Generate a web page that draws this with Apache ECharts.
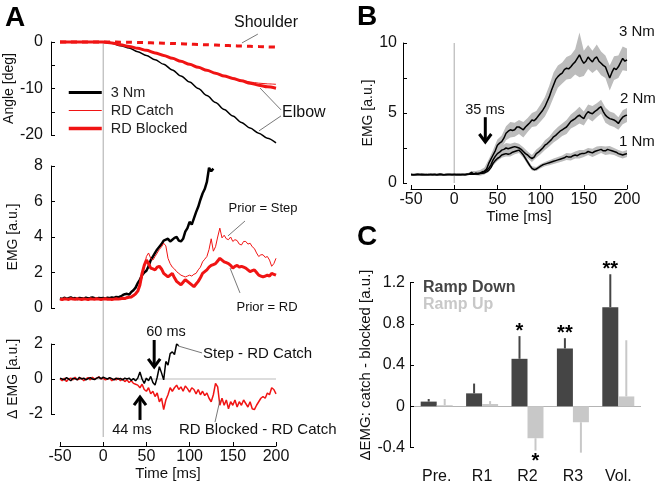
<!DOCTYPE html>
<html><head><meta charset="utf-8">
<script src="https://cdn.jsdelivr.net/npm/echarts@6/dist/echarts.min.js"></script>
<style>html,body{margin:0;padding:0;background:#fff}#c{width:658px;height:483px}</style>
</head><body><div id="c"></div>
<script>
// ---------------- DATA ----------------
const timeTicks = [-50, 0, 50, 100, 150, 200];
// Panel A, joint angles (10 ms samples)
const angleTime = [-50,-40,-30,-20,-10,0,10,20,30,40,50,60,70,80,90,100,110,120,130,140,150,160,170,180,190,200];
const angle3Nm    = [0,0,0,0,0,0,-0.25,-0.8,-1.3,-2.1,-2.9,-3.8,-4.8,-6.0,-7.3,-8.6,-10.0,-11.5,-13.0,-14.5,-15.9,-17.3,-18.5,-19.6,-20.7,-21.7];
const angleCatch  = [0,0,0,0,0,0,-0.2,-0.6,-0.95,-1.35,-1.8,-2.35,-2.9,-3.5,-4.15,-4.8,-5.45,-6.1,-6.7,-7.3,-7.85,-8.3,-8.6,-8.85,-9.0,-9.1];
const angleBlocked= [0,0,0,0,0,0,-0.2,-0.6,-0.95,-1.35,-1.8,-2.35,-2.9,-3.5,-4.15,-4.8,-5.45,-6.1,-6.7,-7.3,-7.85,-8.35,-8.85,-9.3,-9.65,-9.95];
const angleShoulder=[0,0,0,0,0,0,-0.01,-0.03,-0.06,-0.1,-0.15,-0.2,-0.26,-0.32,-0.39,-0.46,-0.53,-0.6,-0.67,-0.74,-0.81,-0.87,-0.93,-0.99,-1.05,-1.1];

// EMG traces sampled every 2.5 ms starting at -50 ms
const sampleStart = -50, sampleStep = 2.5, bandStep = 5;
const emg3Nm = [0.55,0.5,0.58,0.52,0.55,0.6,0.53,0.56,0.5,0.57,0.55,0.52,0.58,0.54,0.56,0.6,0.55,0.52,0.57,0.55,
  0.56,0.53,0.58,0.55,0.6,0.57,0.62,0.6,
  0.65,0.72,0.78,0.8,0.75,0.9,1.0,1.15,
  1.4,1.6,1.85,2.0,2.1,2.35,2.7,2.9,
  3.1,3.3,3.45,3.6,3.8,3.85,3.9,3.75,
  3.85,3.95,4.0,3.8,3.75,3.9,4.3,4.5,
  4.85,4.7,5.05,5.4,5.7,6.1,6.45,6.7,
  7.1,7.9,7.7,7.85];
const emgCatch = [0.5,0.55,0.48,0.52,0.5,0.56,0.5,0.47,0.53,0.5,0.55,0.5,0.48,0.54,0.5,0.52,0.49,0.55,0.5,0.52,
  0.5,0.48,0.53,0.5,0.52,0.5,0.55,0.52,
  0.55,0.6,0.58,0.62,0.6,0.65,0.7,0.8,
  1.0,1.3,1.7,2.3,2.9,3.1,2.8,2.7,
  2.9,3.1,3.3,3.45,3.65,3.5,2.8,2.5,
  2.3,2.2,2.05,1.95,1.85,1.8,1.75,1.8,
  1.85,1.8,1.9,1.95,2.15,2.3,2.6,2.75,
  2.9,3.3,3.9,3.2,3.45,4.0,4.5,3.95,
  4.1,3.9,3.85,4.0,3.75,3.85,3.8,3.6,
  3.55,3.75,3.75,3.6,3.65,3.45,3.35,3.1,
  2.9,3.0,3.0,2.85,2.9,2.7,2.35,2.5,
  2.8];
const emgBlocked = [0.5,0.47,0.52,0.5,0.48,0.53,0.5,0.49,0.52,0.5,0.48,0.51,0.5,0.47,0.52,0.5,0.49,0.52,0.5,0.48,
  0.5,0.52,0.49,0.5,0.48,0.5,0.52,0.5,
  0.52,0.55,0.53,0.58,0.6,0.62,0.7,0.8,
  0.95,1.3,1.95,2.4,2.7,2.5,2.25,2.2,
  2.15,2.3,2.35,2.2,1.95,1.85,1.75,1.85,
  1.95,1.7,1.5,1.4,1.3,1.45,1.6,1.5,
  1.4,1.3,1.2,1.35,1.5,1.7,1.95,2.05,
  2.15,2.3,2.4,2.45,2.5,2.65,2.8,2.7,
  2.6,2.55,2.5,2.4,2.25,2.35,2.4,2.3,
  2.35,2.3,2.25,2.15,2.05,2.1,2.15,2.0,
  1.85,1.8,1.75,1.8,1.85,1.8,1.95,1.9,
  1.85];
const diffStep = [0.05,0.0,-0.05,0.08,0.0,-0.1,0.05,0.02,-0.05,0.1,0.0,0.05,-0.05,0.02,0.08,0.0,-0.03,0.05,0.1,0.02,
  0.1,0.05,0.0,0.08,0.02,-0.05,0.05,0.0,
  0.03,-0.05,0.05,0.0,0.05,-0.08,0.02,-0.1,
  0.05,0.4,0.0,-0.25,0.05,-0.1,0.15,-0.2,
  -0.35,0.1,0.7,0.35,-0.05,1.0,0.8,1.45,
  1.55,1.4,2.0,1.9];
const diffBlocked = [0.0,-0.1,0.05,-0.15,0.0,0.05,-0.05,0.1,-0.05,0.0,0.05,-0.1,0.0,0.08,-0.05,0.1,0.0,0.05,0.12,0.0,
  0.05,-0.05,0.0,0.05,-0.1,0.0,-0.05,0.05,
  -0.1,0.0,-0.15,-0.05,-0.2,-0.1,-0.25,-0.3,
  -0.35,-0.5,-0.3,-0.6,-0.7,-0.5,-0.85,-0.7,
  -1.0,-0.8,-1.3,-1.1,-1.75,-1.2,-0.9,-0.5,
  -0.7,-0.5,-0.35,-0.6,-0.45,-0.7,-0.4,-0.55,
  -0.75,-0.5,-0.6,-0.85,-0.6,-0.9,-0.7,-0.95,
  -0.8,-1.1,-1.3,-0.9,-0.25,-0.45,-1.5,-1.1,
  -1.5,-1.2,-1.7,-1.3,-1.5,-1.2,-1.6,-1.3,
  -1.5,-1.2,-1.4,-1.6,-1.3,-1.7,-1.75,-1.5,
  -1.3,-1.1,-1.0,-1.1,-0.8,-0.9,-0.5,-0.6,
  -0.85];
// Panel B means (2.5 ms) and standard errors (5 ms)
const b3Nm = [0.6,0.58,0.6,0.62,0.6,0.59,0.61,0.6,0.58,0.6,0.61,0.6,0.59,0.6,0.62,0.6,0.59,0.6,0.61,0.6,
  0.6,0.59,0.61,0.6,0.6,0.58,0.62,0.65,
  0.75,0.65,0.7,0.68,0.72,0.8,0.85,1.0,
  1.4,1.7,2.0,2.3,2.7,2.85,2.95,3.2,
  3.55,3.7,3.8,3.75,3.8,4.0,4.0,3.9,
  3.8,4.0,4.15,4.3,4.5,4.45,4.6,4.8,
  5.0,5.2,5.45,5.8,6.15,6.6,7.0,7.4,
  7.6,7.75,7.85,8.1,8.2,8.15,8.3,8.5,
  8.65,8.9,9.15,8.8,8.55,8.7,9.0,8.8,
  8.65,8.9,9.0,8.7,8.55,8.4,8.3,7.9,
  7.5,7.9,8.2,8.1,8.3,8.6,8.9,8.7,
  8.8];
const b2Nm = [0.6,0.61,0.59,0.6,0.6,0.62,0.6,0.58,0.6,0.61,0.6,0.6,0.59,0.61,0.6,0.58,0.6,0.61,0.6,0.59,
  0.6,0.6,0.61,0.59,0.6,0.6,0.62,0.63,
  0.7,0.65,0.68,0.66,0.7,0.75,0.8,0.9,
  1.05,1.3,1.65,1.9,2.1,2.2,2.35,2.4,
  2.5,2.45,2.5,2.55,2.6,2.55,2.5,2.4,
  2.25,2.1,2.0,1.85,1.75,1.85,2.1,2.2,
  2.35,2.5,2.7,2.8,2.95,3.1,3.3,3.4,
  3.55,3.7,3.8,3.9,4.0,4.2,4.4,4.5,
  4.6,4.75,4.85,4.7,4.6,4.9,5.1,5.0,
  4.95,5.1,5.2,5.35,5.45,5.1,4.85,4.7,
  4.6,4.55,4.5,4.4,4.25,4.5,4.7,4.8,
  4.85];
const b1Nm = [0.6,0.59,0.6,0.61,0.6,0.6,0.58,0.6,0.61,0.6,0.59,0.6,0.6,0.62,0.6,0.59,0.6,0.6,0.61,0.6,
  0.6,0.6,0.59,0.61,0.6,0.6,0.61,0.62,
  0.65,0.63,0.66,0.65,0.68,0.7,0.72,0.8,
  0.9,1.1,1.4,1.6,1.75,1.85,2.0,2.05,
  2.1,2.05,2.1,2.2,2.25,2.3,2.35,2.2,
  2.0,1.75,1.5,1.25,1.05,0.95,1.0,1.1,
  1.2,1.3,1.35,1.4,1.45,1.5,1.55,1.6,
  1.65,1.7,1.75,1.8,1.9,1.85,1.85,1.95,
  2.0,1.95,2.05,2.1,2.1,2.15,2.25,2.2,
  2.15,2.25,2.3,2.35,2.4,2.3,2.3,2.4,
  2.35,2.3,2.25,2.2,2.1,2.05,2.0,2.05,
  2.1];
const se3Nm = [0.05,0.05,0.05,0.05,0.05,0.05,0.05,0.05,0.05,0.05,
  0.05,0.05,0.05,0.06,0.1,0.15,0.2,0.25,0.3,0.35,
  0.4,0.45,0.5,0.55,0.5,0.5,0.55,0.5,0.5,0.55,
  0.6,0.7,0.8,0.9,0.8,0.75,0.8,0.85,0.9,1.6,
  0.9,0.85,0.8,0.9,0.85,0.8,0.9,0.85,0.8,0.85,
  0.8];
const se2Nm = [0.05,0.05,0.05,0.05,0.05,0.05,0.05,0.05,0.05,0.05,
  0.05,0.05,0.05,0.05,0.08,0.1,0.12,0.15,0.2,0.25,
  0.3,0.3,0.35,0.3,0.3,0.3,0.3,0.25,0.25,0.3,
  0.3,0.35,0.35,0.4,0.45,0.45,0.5,0.5,0.55,0.6,
  0.5,0.5,0.55,0.5,0.5,0.55,0.5,0.5,0.45,0.5,
  0.5];
const se1Nm = [0.04,0.04,0.04,0.04,0.04,0.04,0.04,0.04,0.04,0.04,
  0.04,0.04,0.04,0.05,0.06,0.07,0.08,0.1,0.12,0.15,
  0.18,0.2,0.2,0.2,0.2,0.2,0.2,0.18,0.15,0.15,
  0.15,0.15,0.18,0.2,0.2,0.22,0.25,0.25,0.25,0.3,
  0.25,0.25,0.3,0.3,0.25,0.3,0.3,0.25,0.25,0.25,
  0.25];
// Panel C
const phases = ['Pre.', 'R1', 'R2', 'R3', 'Vol.'];
const rampDown    = [0.045, 0.125, 0.46, 0.56, 0.96];
const rampDownTip = [0.07, 0.22, 0.68, 0.66, 1.28];
const rampUp      = [0.01, 0.022, -0.31, -0.155, 0.095];
const rampUpTip   = [0.07, 0.05, -0.43, -0.45, 0.64];
const starsDown = ['', '', '*', '**', '**'];
const starsUp   = ['', '', '*', '', ''];
// latency markers [time, arrow tail, arrow tip]
const latencyA = [[59, 2.23, 0.69], [42.6, -2.34, -1.03]];
const latencyB = [[36, 4.7, 2.93]];

// ---------------- HELPERS ----------------
const FONT = '"Liberation Sans", Arial, Helvetica, sans-serif';
const RED = '#f01414';
const toXY = v => v.map((y, i) => [sampleStart + i * sampleStep, y]);
const pairs = (xs, ys) => xs.map((x, i) => [x, ys[i]]);

function line(name, data, xi, color, width, extra) {
  return Object.assign({type: 'line', name, data, xAxisIndex: xi, yAxisIndex: xi, symbol: 'none',
    clip: false, lineStyle: {color, width}, itemStyle: {color}, z: 3, silent: true}, extra || {});
}
function band(mean, se, xi) {
  return {type: 'custom', xAxisIndex: xi, yAxisIndex: xi, data: [[0, 0]], silent: true, z: 1,
    renderItem: (p, api) => {
      const up = [], lo = [];
      se.forEach((s, k) => {
        const t = sampleStart + k * bandStep, m = mean[2 * k];
        up.push(api.coord([t, m + s])); lo.push(api.coord([t, m - s]));
      });
      return {type: 'polygon', shape: {points: up.concat(lo.reverse())}, style: {fill: '#bcbcbc'}};
    }};
}
function arrows(items, xi) {
  return {type: 'custom', xAxisIndex: xi, yAxisIndex: xi, data: items, silent: true, z: 6,
    renderItem: (p, api) => {
      const t = api.value(0), tail = api.coord([t, api.value(1)]), tip = api.coord([t, api.value(2)]);
      const d = tip[1] > tail[1] ? 1 : -1;
      return {type: 'group', children: [
        {type: 'line', shape: {x1: tail[0], y1: tail[1], x2: tip[0], y2: tip[1] - d * 2}, style: {stroke: '#000', lineWidth: 3}},
        {type: 'polyline', shape: {points: [[tip[0] - 6, tip[1] - d * 8], [tip[0], tip[1]], [tip[0] + 6, tip[1] - d * 8]]},
          style: {stroke: '#000', lineWidth: 3, fill: null}}
      ]};
    }};
}
function pointers(items, xi) {
  return {type: 'custom', xAxisIndex: xi, yAxisIndex: xi, data: items, silent: true, z: 6,
    renderItem: (p, api) => {
      const a = api.coord([api.value(0), api.value(1)]), b = api.coord([api.value(2), api.value(3)]);
      return {type: 'line', shape: {x1: a[0], y1: a[1], x2: b[0], y2: b[1]}, style: {stroke: '#555', lineWidth: 0.8}};
    }};
}
function errBars(vals, tips, stars, color, side) {
  return {type: 'custom', xAxisIndex: 5, yAxisIndex: 5, silent: true, z: 4,
    data: vals.map((v, i) => [i, v, tips[i]]),
    renderItem: (p, api) => {
      const i = api.value(0);
      const a = api.coord([i, api.value(1)]), b = api.coord([i, api.value(2)]);
      const x = a[0] + side * 8;
      const up = b[1] < a[1];
      const kids = [{type: 'line', shape: {x1: x, y1: a[1], x2: x, y2: b[1]}, style: {stroke: color, lineWidth: 2}}];
      const s = stars[p.dataIndex];
      if (s) kids.push({type: 'text', style: {text: s, x: x, y: up ? b[1] - 5 : b[1] + 11, textAlign: 'center',
        textVerticalAlign: 'middle', font: 'bold 20px ' + FONT, fill: '#000'}});
      return {type: 'group', children: kids};
    }};
}
function txt(text, x, y, size, opt) {
  opt = opt || {};
  return {type: 'text', x: x, y: y, silent: true, z: 10, style: {text, font: (opt.bold ? 'bold ' : '') + size + 'px ' + FONT,
    fill: opt.color || '#111', textAlign: opt.align || 'left', textVerticalAlign: 'middle'}};
}
const axisBase = {
  axisLine: {show: true, onZero: false, lineStyle: {color: '#000', width: 1}},
  axisTick: {show: true, inside: true, length: 4, lineStyle: {color: '#000', width: 1}},
  splitLine: {show: false},
  nameLocation: 'middle', nameTextStyle: {fontSize: 14, color: '#111', fontFamily: FONT},
};
function yAx(gi, min, max, interval, offset, name, gap, margin, fmt) {
  return Object.assign({}, axisBase, {type: 'value', gridIndex: gi, min, max, interval, offset, name, nameGap: gap,
    axisLabel: {fontSize: 16, color: '#111', fontFamily: FONT, margin, formatter: fmt}});
}
function xHidden(gi) { return {type: 'value', gridIndex: gi, min: -50, max: 200, show: false}; }
function xTime(gi, offset, gap) {
  return Object.assign({}, axisBase, {type: 'value', gridIndex: gi, min: timeTicks[0], max: timeTicks[timeTicks.length - 1],
    interval: 50, offset, name: 'Time [ms]', nameGap: gap, nameTextStyle: {fontSize: 15, color: '#111', fontFamily: FONT},
    axisLabel: {fontSize: 16, color: '#111', fontFamily: FONT, margin: 3}});
}

const grids = [
  {left: 60, top: 42, width: 216, height: 93},
  {left: 60, top: 166, width: 216, height: 142},
  {left: 60, top: 344, width: 216, height: 70},
  {left: 60, top: 42, width: 216, height: 395},
  {left: 411, top: 43, width: 216, height: 140},
  {left: 414, top: 282.5, width: 227, height: 165}
].map(g => Object.assign({containLabel: false, outerBoundsMode: 'none'}, g));

const option = {
  animation: false,
  textStyle: {fontFamily: FONT},
  grid: grids,
  xAxis: [xHidden(0), xHidden(1), xTime(2, 32, 17), xHidden(3), xTime(4, 6, 18),
    {type: 'category', gridIndex: 5, data: phases, axisLine: {show: false}, axisTick: {show: false},
     axisLabel: {fontSize: 16, color: '#111', fontFamily: FONT, margin: 21}}],
  yAxis: [
    yAx(0, -20, 0, 5, 9, 'Angle [deg]', 31, 8, v => (v % 10 === 0 ? String(v) : '')),
    yAx(1, 0, 8, 2, 9, 'EMG [a.u.]', 31, 8),
    yAx(2, -2, 2, 2, 9, 'Δ EMG [a.u.]', 31, 8),
    {type: 'value', gridIndex: 3, min: 0, max: 1, show: false},
    yAx(4, 0, 10, 2.5, 8, 'EMG [a.u.]', 25, 6, v => (v % 5 === 0 ? String(v) : '')),
    Object.assign(yAx(5, -0.4, 1.2, 0.4, 4, 'ΔEMG: catch - blocked [a.u.]', 30, 5),
      {nameTextStyle: {fontSize: 15, color: '#111', fontFamily: FONT}})
  ],
  legend: {
    orient: 'vertical', left: 67, top: 85, itemWidth: 33, itemHeight: 14, itemGap: 3, padding: 0,
    textStyle: {fontSize: 14.5, color: '#222', fontFamily: FONT, padding: [0, 0, 0, 4]},
    selectedMode: false,
    itemStyle: {opacity: 0},
    data: [
      {name: '3 Nm', lineStyle: {width: 3, color: '#000'}, itemStyle: {opacity: 0}},
      {name: 'RD Catch', lineStyle: {width: 1, color: RED}, itemStyle: {opacity: 0}},
      {name: 'RD Blocked', lineStyle: {width: 3.5, color: RED}, itemStyle: {opacity: 0}}
    ]
  },
  series: [
    // reference lines
    line('', [[0, 0], [0, 1]], 3, '#aaa', 1, {z: 1}),
    line('', [[-50, 0], [200, 0]], 2, '#bbb', 1, {z: 1}),
    line('', [[0, 0], [0, 10]], 4, '#aaa', 1, {z: 1}),
    // A: angles
    line('3 Nm', pairs(angleTime, angle3Nm), 0, '#000', 1.5, {smooth: 0.3, smoothMonotone: 'x'}),
    line('shoulder', pairs(angleTime, angleShoulder), 0, RED, 3, {smooth: 0.3, smoothMonotone: 'x', lineStyle: {color: RED, width: 3, type: [6, 5]}}),
    line('RD Catch', pairs(angleTime, angleCatch), 0, RED, 1, {smooth: 0.3, smoothMonotone: 'x'}),
    line('RD Blocked', pairs(angleTime, angleBlocked), 0, RED, 3, {smooth: 0.3, smoothMonotone: 'x'}),
    // A: EMG
    line('3 Nm', toXY(emg3Nm), 1, '#000', 2.5),
    line('RD Catch', toXY(emgCatch), 1, RED, 1),
    line('RD Blocked', toXY(emgBlocked), 1, RED, 3),
    // A: delta EMG
    line('diffBlocked', toXY(diffBlocked), 2, RED, 1.5),
    line('diffStep', toXY(diffStep), 2, '#000', 1.5),
    arrows(latencyA, 2),
    pointers([[179, 1.7, 160.6, -0.2], [205.8, -14.6, 181.5, -9.9], [205.8, -15.9, 180.4, -19.1]], 0),
    pointers([[164.1, 4.9, 144.4, 4.06], [158.3, 0.85, 146.8, 2.25]], 1),
    pointers([[86.6, 1.89, 114.4, 1.49], [135.2, -1.2, 129.4, -2.46]], 2),
    // B
    band(b3Nm, se3Nm, 4), band(b2Nm, se2Nm, 4), band(b1Nm, se1Nm, 4),
    line('b3', toXY(b3Nm), 4, '#000', 1.5),
    line('b2', toXY(b2Nm), 4, '#000', 1.5),
    line('b1', toXY(b1Nm), 4, '#000', 1.5),
    arrows(latencyB, 4),
    // C
    {type: 'bar', name: 'Ramp Down', xAxisIndex: 5, yAxisIndex: 5, data: rampDown, barWidth: 16, barGap: '0%',
     itemStyle: {color: '#454545'}, silent: true, z: 3},
    {type: 'bar', name: 'Ramp Up', xAxisIndex: 5, yAxisIndex: 5, data: rampUp, barWidth: 16, barGap: '0%',
     itemStyle: {color: '#c8c8c8'}, silent: true, z: 3,
     markLine: {silent: true, symbol: 'none', data: [{yAxis: 0}], label: {show: false},
       lineStyle: {color: '#b4b4b4', width: 1, type: 'solid'}, z: 2}},
    errBars(rampDown, rampDownTip, starsDown, '#454545', -1),
    errBars(rampUp, rampUpTip, starsUp, '#c8c8c8', 1)
  ],
  graphic: [
    txt('A', 5, 18, 28, {bold: true, color: '#000'}),
    txt('B', 357, 17, 28, {bold: true, color: '#000'}),
    txt('C', 357, 237, 28, {bold: true, color: '#000'}),
    txt('Shoulder', 266, 23, 16, {align: 'center'}),
    txt('Elbow', 282, 113, 16),
    txt('Prior = Step', 263, 208, 13, {align: 'center'}),
    txt('Prior = RD', 267, 307, 13, {align: 'center'}),
    txt('60 ms', 166, 332, 14.5, {align: 'center'}),
    txt('44 ms', 132, 430, 14.5, {align: 'center'}),
    txt('Step - RD Catch', 203, 354, 15),
    txt('RD Blocked - RD Catch', 179, 430, 15),
    txt('3 Nm', 619, 32, 15),
    txt('2 Nm', 620, 99, 15),
    txt('1 Nm', 619, 142, 15),
    txt('35 ms', 485, 110, 14.5, {align: 'center'}),
    txt('Ramp Down', 423, 288, 16, {bold: true, color: '#454545'}),
    txt('Ramp Up', 423, 305, 16, {bold: true, color: '#c8c8c8'})
  ]
};
const chart = echarts.init(document.getElementById('c'), null, {renderer: 'canvas'});
chart.setOption(option);
</script></body></html>
